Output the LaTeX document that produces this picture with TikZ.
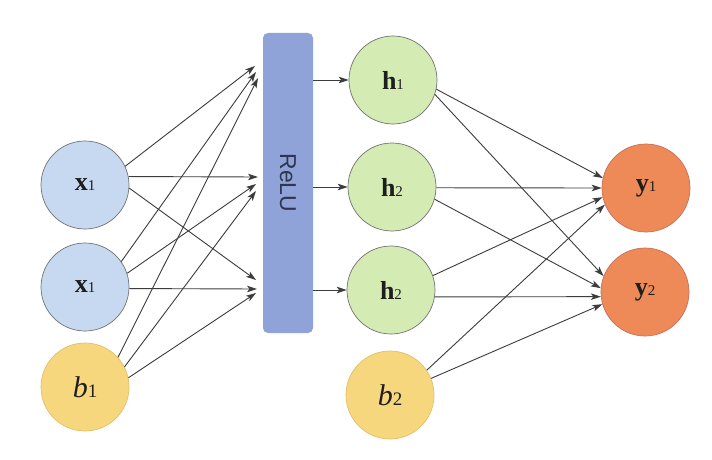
\documentclass[tikz,border=0pt]{standalone}
\usepackage{fontspec}
\setmainfont{Liberation Serif}
\newfontfamily\relufont{Liberation Sans}
\usetikzlibrary{arrows.meta}
\definecolor{xfill}{HTML}{C6D9F0}
\definecolor{bfill}{HTML}{F7D77E}
\definecolor{bline}{HTML}{E2C06A}
\definecolor{hfill}{HTML}{D4ECB4}
\definecolor{yfill}{HTML}{EE8A58}
\definecolor{yline}{HTML}{C8705A}
\definecolor{relufill}{HTML}{8FA3D8}
\definecolor{relutext}{HTML}{2E3550}
\definecolor{arrowcol}{HTML}{3C3C3C}
\definecolor{txt}{HTML}{1E1E1E}
\newcommand{\vlab}[2]{\textbf{#1}{\fontsize{15}{15}\selectfont #2}}
\newcommand{\blab}[2]{\textit{#1}{\fontsize{19}{19}\selectfont #2}}
\begin{document}
\begin{tikzpicture}[x=1pt,y=-1pt,
  neuron/.style={circle, line width=0.7pt, minimum size=88pt, inner sep=0pt, text=txt, font=\fontsize{26}{26}\selectfont},
  xnode/.style={neuron, draw=black!55, fill=xfill},
  bnode/.style={neuron, draw=bline, fill=bfill, font=\fontsize{30}{30}\selectfont},
  hnode/.style={neuron, draw=black!55, fill=hfill},
  ynode/.style={neuron, draw=yline, fill=yfill},
  relubox/.style={rectangle, rounded corners=5pt, fill=relufill, draw=none, minimum width=50pt, minimum height=300pt, inner sep=0pt},
  conn/.style={draw=arrowcol, line width=0.9pt, -{Stealth[length=10pt,width=6.5pt,inset=2.5pt]}}]
\useasboundingbox (0,0) rectangle (712,460);
\fill[white] (0,0) rectangle (712,460);

% input layer
\node[xnode] (x1a) at (85,185) {\vlab{x}{1}};
\node[xnode] (x1b) at (85,287) {\vlab{x}{1}};
\node[bnode] (b1)  at (85,387) {\blab{b}{1}};

% ReLU bar
\node[relubox] (relu) at (288,183) {};
\node[rotate=-90, text=relutext, font=\relufont\fontsize{23}{23}\selectfont] (relulab) at (288,183) {ReLU};

% hidden layer
\node[hnode] (h1) at (393,80)  {\vlab{h}{1}};
\node[hnode] (h2) at (392,187) {\vlab{h}{2}};
\node[hnode] (h3) at (391,290) {\vlab{h}{2}};
\node[bnode] (b2) at (390,395) {\blab{b}{2}};

% output layer
\node[ynode] (y1) at (646,188) {\vlab{y}{1}};
\node[ynode] (y2) at (645,292) {\vlab{y}{2}};

% arrow tips at the ReLU bar
\coordinate (tA1) at (255,66);
\coordinate (tB1) at (256,72);
\coordinate (tC1) at (258,78);
\coordinate (tA2) at (258,177);
\coordinate (tB2) at (256,184);
\coordinate (tC2) at (256,191);
\coordinate (tA3) at (256,280);
\coordinate (tB3) at (257,289);
\coordinate (tC3) at (256,293);

% inputs to ReLU
\draw[conn] (x1a.25) -- (tA1);
\draw[conn] (x1a.11) -- (tA2);
\draw[conn] (x1a.-4) -- (tA3);
\draw[conn] (x1b.35) -- (tB1);
\draw[conn] (x1b.18) -- (tB2);
\draw[conn] (x1b.-2) -- (tB3);
\draw[conn] (b1.42) -- (tC1);
\draw[conn] (b1.27) -- (tC2);
\draw[conn] (b1.12) -- (tC3);

% ReLU to hidden
\draw[conn] (relu.east |- h1) -- (h1);
\draw[conn] (relu.east |- h2) -- (h2);
\draw[conn] (relu.east |- h3) -- (h3);

% hidden to output
\draw[conn] (h1.-12) -- (y1.167);
\draw[conn] (h1.-19) -- (y2.159);
\draw[conn] (h2.-1)  -- (y1.180);
\draw[conn] (h2.-16) -- (y2.175);
\draw[conn] (h3.19)  -- (y1.192);
\draw[conn] (h3.-9)  -- (y2.186);
\draw[conn] (b2.34)  -- (y1.202);
\draw[conn] (b2.22)  -- (y2.196);
\end{tikzpicture}
\end{document}
